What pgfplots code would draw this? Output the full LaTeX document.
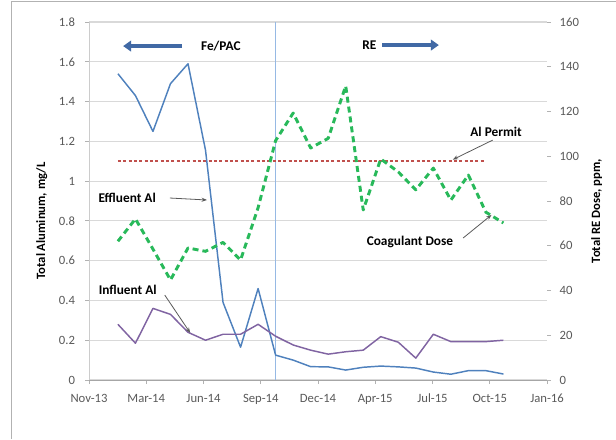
\documentclass[border=0pt]{standalone}
\usepackage{pgfplots}
\pgfplotsset{compat=1.18}
\usepackage{pgfplotstable}
\usepackage{fontspec}
\setmainfont{Carlito}
\usetikzlibrary{arrows.meta}
\definecolor{effblue}{RGB}{79,129,189}
\definecolor{vlineblue}{RGB}{150,185,228}
\definecolor{infpurple}{RGB}{128,100,162}
\definecolor{dosegreen}{RGB}{40,185,90}
\definecolor{permitred}{RGB}{192,80,77}
\definecolor{arrowblue}{RGB}{65,105,165}
\definecolor{gridgray}{RGB}{217,217,217}
\definecolor{ticktext}{RGB}{89,89,89}

\pgfplotstableread{
day eff inf
50 1.54 0.28
80.3 1.43 0.185
110.6 1.25 0.36
140.9 1.49 0.33
171.2 1.59 0.24
201.5 1.155 0.20
231.8 0.39 0.23
262.1 0.165 0.23
292.4 0.46 0.28
322.7 0.125 0.22
353 0.10 0.176
383.3 0.067 0.15
413.6 0.066 0.13
443.9 0.05 0.142
474.2 0.064 0.15
504.5 0.07 0.218
534.8 0.066 0.19
565.1 0.06 0.11
595.4 0.04 0.23
625.7 0.029 0.193
656 0.047 0.193
686.3 0.047 0.193
716.6 0.03 0.20
}\altable

\pgfplotstableread{
day dose
50 62
80.3 72
110.6 58.5
140.9 44.7
171.2 59
201.5 57.5
231.8 61.5
262.1 53.6
292.4 77
322.7 107
353 119.3
383.3 103.7
413.6 108
443.9 131.4
474.2 76
504.5 98.8
534.8 93
565.1 85
595.4 94.7
625.7 80.4
656 91.6
686.3 75
716.6 70.2
}\dosetable

\begin{document}
\begin{tikzpicture}
\useasboundingbox (0,0) rectangle (462pt,329.25pt);
\pgfplotsset{
  every axis/.append style={
    width=343.5pt, height=268.5pt, scale only axis,
    at={(66.75pt,44.25pt)}, anchor=south west,
    xmin=0, xmax=792,
    tick align=outside,
    major tick length=3pt,
    tick style={draw=black!30, line width=0.6pt},
    tick label style={font=\fontsize{9.5}{11}\selectfont, text=ticktext},
    /pgf/number format/assume math mode=true,
  }
}
\begin{axis}[
  ymin=0, ymax=1.8,
  axis x line*=bottom, axis y line*=left,
  x axis line style={draw=black!35, line width=0.7pt},
  y axis line style={draw=black!20, line width=0.7pt},
  xtick={0,99,198,297,396,495,594,693,792},
  xticklabels={Nov-13,Mar-14,Jun-14,Sep-14,Dec-14,Apr-15,Jul-15,Oct-15,Jan-16},
  ytick={0,0.2,0.4,0.6,0.8,1,1.2,1.4,1.6,1.8},
  ymajorgrids,
  grid style={draw=gridgray, line width=0.9pt},
  xticklabel style={yshift=-4pt},
  yticklabel style={xshift=-4pt},
  clip=false,
]
\addplot[color=vlineblue, line width=0.9pt] table[x=x, y=y] {
x y
322 0
322 1.8
};
\addplot[draw=permitred, line width=1.6pt, dash pattern=on 2.2pt off 1.8pt] coordinates {(50,1.1) (686.3,1.1)};
\addplot[draw=effblue, line width=1.1pt, line join=round] table[x=day, y=eff] {\altable};
\addplot[draw=infpurple, line width=1.1pt, line join=round] table[x=day, y=inf] {\altable};

\node[font=\bfseries\fontsize{10}{12}\selectfont] at (axis cs:228,1.679) {Fe/PAC};
\draw[arrowblue, line width=3pt, -{Triangle[length=6pt,width=8pt]}] (axis cs:161,1.679) -- (axis cs:59,1.679);
\node[font=\bfseries\fontsize{10}{12}\selectfont] at (axis cs:485,1.684) {RE};
\draw[arrowblue, line width=3pt, -{Triangle[length=6pt,width=8pt]}] (axis cs:507,1.684) -- (axis cs:605,1.684);

\node[font=\bfseries\fontsize{10}{12}\selectfont] at (axis cs:704,1.248) {Al Permit};
\draw[black!65, line width=0.6pt, -{Stealth[length=4pt,width=3pt]}] (axis cs:698,1.206) -- (axis cs:629,1.108);
\node[font=\bfseries\fontsize{10}{12}\selectfont] at (axis cs:66,0.915) {Effluent Al};
\draw[black!65, line width=0.6pt, -{Stealth[length=4pt,width=3pt]}] (axis cs:140,0.915) -- (axis cs:204,0.905);
\node[font=\bfseries\fontsize{10}{12}\selectfont] at (axis cs:67,0.4525) {Influent Al};
\draw[black!65, line width=0.6pt, -{Stealth[length=4pt,width=3pt]}] (axis cs:131,0.427) -- (axis cs:175,0.237);
\node[font=\bfseries\fontsize{10}{12}\selectfont] at (axis cs:555,0.695) {Coagulant Dose};
\draw[black!65, line width=0.6pt, -{Stealth[length=4pt,width=3pt]}] (axis cs:647,0.714) -- (axis cs:696,0.83);
\end{axis}
\begin{axis}[
  ymin=0, ymax=160,
  axis x line=none, axis y line*=right,
  y axis line style={draw=none},
  ytick={0,20,40,60,80,100,120,140,160},
  yticklabel style={xshift=3pt},
]
\addplot[draw=dosegreen, line width=2.2pt, dash pattern=on 4.5pt off 3pt, line join=round] table[x=day, y=dose] {\dosetable};
\end{axis}
\node[rotate=90, font=\bfseries\fontsize{9.5}{12}\selectfont] at (31.3pt,163.5pt) {Total Aluminum, mg/L};
\node[rotate=90, font=\bfseries\fontsize{9.5}{12}\selectfont] at (447.5pt,171pt) {Total RE Dose, ppm,};
\draw[black!30, line width=0.75pt] (8.25pt,0) -- (8.25pt,328.1pt) -- (462pt,328.1pt);
\end{tikzpicture}
\end{document}
